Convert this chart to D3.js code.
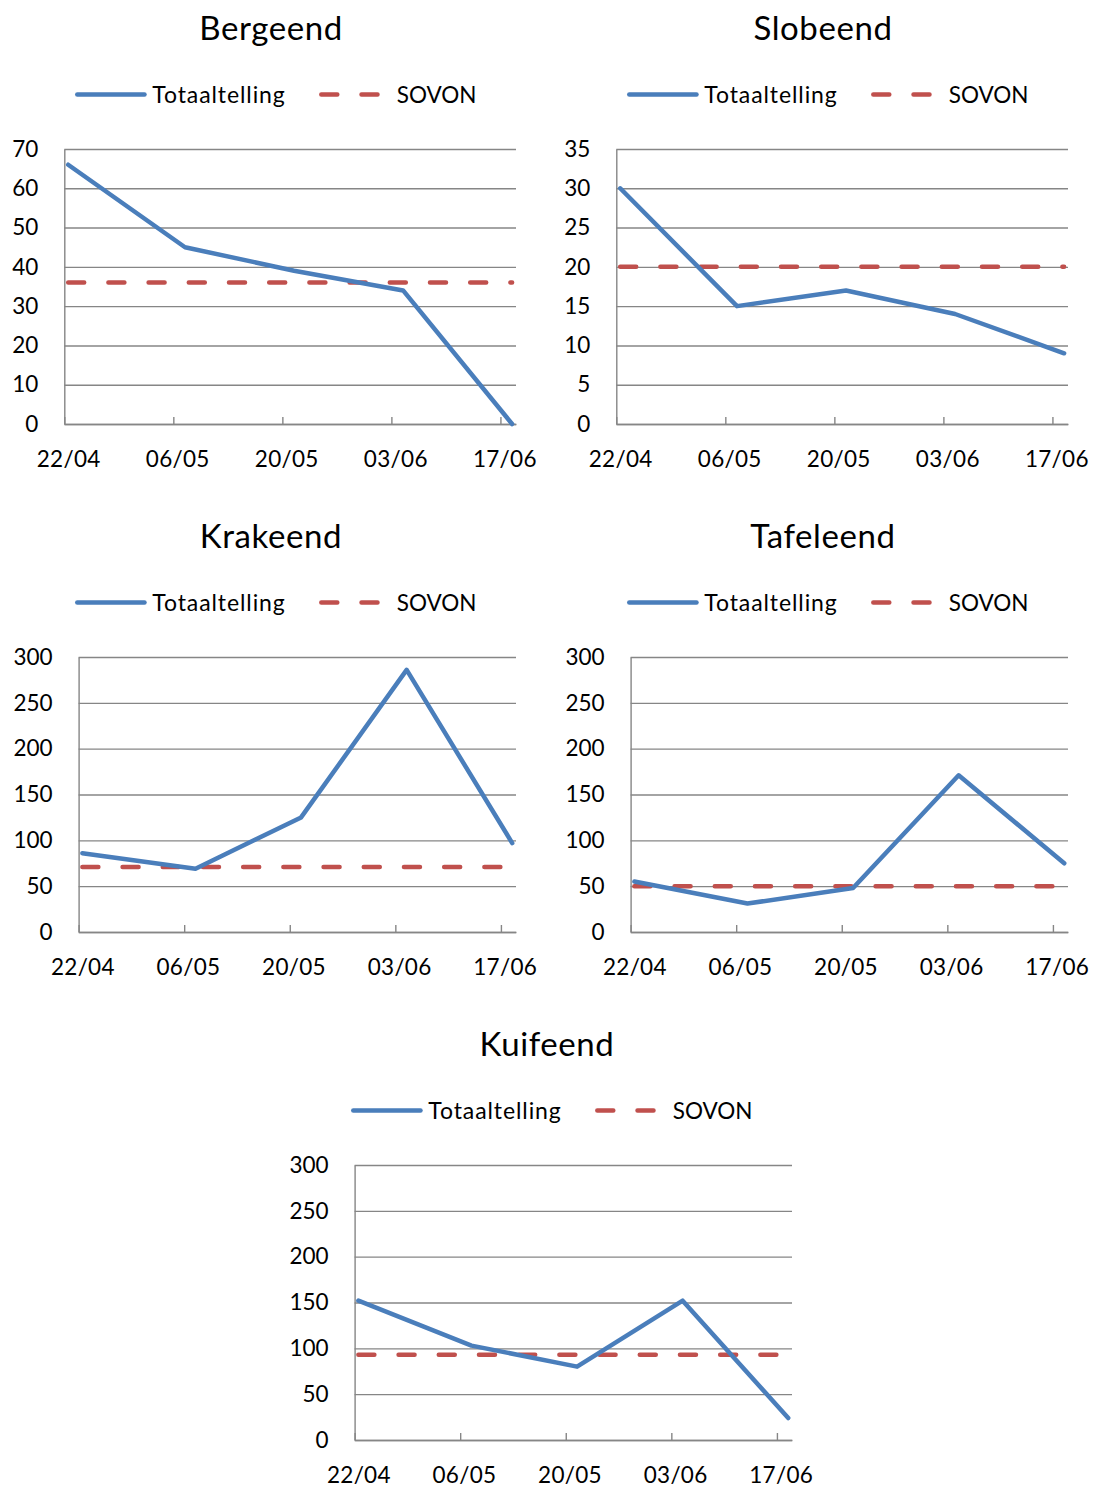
<!DOCTYPE html>
<html>
<head>
<meta charset="utf-8">
<script src="https://cdn.jsdelivr.net/npm/d3@7"></script>
<style>
  html, body { margin: 0; padding: 0; background: #ffffff; }
  svg { display: block; }
  text { font-family: Lato, "Open Sans", sans-serif; fill: #000000; }
</style>
</head>
<body>
<svg id="chart" width="1093" height="1488"></svg>
<script>
// Survey dates and axis ticks (day/month)
const countDates = ["22/04", "07/05", "21/05", "04/06", "18/06"];
const tickLabels = ["22/04", "06/05", "20/05", "03/06", "17/06"];
const axisStart = "22/04";
const axisEnd = "19/06";
const year = 2012;

// Counted totals per species
const bergeend = [66, 45, 39, 34, 0];
const slobeend = [30, 15, 17, 14, 9];
const krakeend = [86, 69, 125, 286, 97];
const tafeleend = [55, 31, 48, 171, 75];
const kuifeend = [152, 103, 80, 152, 24];

// SOVON reference levels per species
const bergeendSovon = [36, 36, 36, 36, 36];
const slobeendSovon = [20, 20, 20, 20, 20];
const krakeendSovon = [71, 71, 71, 71, 71];
const tafeleendSovon = [50, 50, 50, 50, 50];
const kuifeendSovon = [93, 93, 93, 93, 93];

const seriesNames = ["Totaaltelling", "SOVON"];

const parse = s => d3.timeParse("%d/%m/%Y")(s + "/" + year);
const dates = countDates.map(parse);
const ticks = tickLabels.map(parse);
// each date occupies a one-day slot; points and labels sit in the middle of it
const mid = d => d3.timeHour.offset(d, 12);

const panels = [
  { title: "Bergeend",  total: bergeend,  sovon: bergeendSovon,  yMax: 70,  yStep: 10, ox: 0,   oy: 0,    left: 64.3 },
  { title: "Slobeend",  total: slobeend,  sovon: slobeendSovon,  yMax: 35,  yStep: 5,  ox: 552, oy: 0,    left: 64.3 },
  { title: "Krakeend",  total: krakeend,  sovon: krakeendSovon,  yMax: 300, yStep: 50, ox: 0,   oy: 508,  left: 78.6 },
  { title: "Tafeleend", total: tafeleend, sovon: tafeleendSovon, yMax: 300, yStep: 50, ox: 552, oy: 508,  left: 78.6 },
  { title: "Kuifeend",  total: kuifeend,  sovon: kuifeendSovon,  yMax: 300, yStep: 50, ox: 276, oy: 1016, left: 78.6 }
];

const BLUE = "#4a7ebb";
const RED = "#c0504d";
const GRID = "#868686";
const LW = 4.5;
const DASH = "16 24.2";
const FONT = "Lato, 'Open Sans', sans-serif";

const svg = d3.select("#chart");

panels.forEach(p => {
  const g = svg.append("g").attr("transform", `translate(${p.ox},${p.oy})`);
  const top = 149, bottom = 424, right = 516;

  // title
  g.append("text")
    .attr("x", 271).attr("y", 40)
    .attr("text-anchor", "middle")
    .style("font-size", "33px")
    .style("letter-spacing", "0.6px")
    .text(p.title);

  // legend
  const lg = g.append("g");
  lg.append("line")
    .attr("x1", 77.3).attr("x2", 144.5).attr("y1", 94.5).attr("y2", 94.5)
    .attr("stroke", BLUE).attr("stroke-width", LW).attr("stroke-linecap", "round");
  lg.append("text").attr("x", 152.3).attr("y", 102.5)
    .style("font-size", "23px").style("letter-spacing", "0.9px")
    .text(seriesNames[0]);
  lg.append("line")
    .attr("x1", 321.3).attr("x2", 379).attr("y1", 94.5).attr("y2", 94.5)
    .attr("stroke", RED).attr("stroke-width", LW).attr("stroke-linecap", "round")
    .attr("stroke-dasharray", DASH);
  lg.append("text").attr("x", 396.7).attr("y", 102.5)
    .style("font-size", "22.5px").text(seriesNames[1]);

  const x = d3.scaleTime().domain([parse(axisStart), parse(axisEnd)]).range([p.left, right]);
  const y = d3.scaleLinear().domain([0, p.yMax]).range([bottom, top]);

  // value axis with horizontal gridlines
  const yAxis = d3.axisLeft(y)
    .tickValues(d3.range(0, p.yMax + p.yStep / 2, p.yStep))
    .tickSize(-(right - p.left))
    .tickSizeOuter(0)
    .tickPadding(26);
  const ya = g.append("g").attr("transform", `translate(${p.left},0)`).call(yAxis);
  ya.selectAll(".tick line").attr("stroke", GRID).attr("stroke-width", 1.4);
  ya.select(".domain").attr("stroke", GRID).attr("stroke-width", 1.4);
  ya.selectAll(".tick text")
    .style("font-size", "22.5px").style("font-family", FONT)
    .attr("fill", "#000");

  // date axis
  const halfDay = x(mid(ticks[0])) - x(ticks[0]);
  const xAxis = d3.axisBottom(x)
    .tickValues(ticks)
    .tickSize(-7)
    .tickSizeOuter(0)
    .tickPadding(27)
    .tickFormat(d3.timeFormat("%d/%m"));
  const xa = g.append("g").attr("transform", `translate(0,${bottom})`).call(xAxis);
  xa.selectAll(".tick line").attr("stroke", GRID).attr("stroke-width", 1.4);
  xa.select(".domain").attr("stroke", GRID).attr("stroke-width", 1.4);
  xa.selectAll(".tick text")
    .attr("x", halfDay)
    .style("font-size", "22.5px").style("letter-spacing", "0.3px").style("font-family", FONT)
    .attr("fill", "#000");

  const line = d3.line()
    .x((d, i) => x(mid(dates[i])))
    .y(d => y(d));

  // SOVON reference
  g.append("path")
    .datum(p.sovon)
    .attr("d", line)
    .attr("fill", "none")
    .attr("stroke", RED).attr("stroke-width", LW)
    .attr("stroke-linecap", "round").attr("stroke-linejoin", "round")
    .attr("stroke-dasharray", DASH);

  // counted totals
  g.append("path")
    .datum(p.total)
    .attr("d", line)
    .attr("fill", "none")
    .attr("stroke", BLUE).attr("stroke-width", LW)
    .attr("stroke-linecap", "round").attr("stroke-linejoin", "round");
});
</script>
</body>
</html>
